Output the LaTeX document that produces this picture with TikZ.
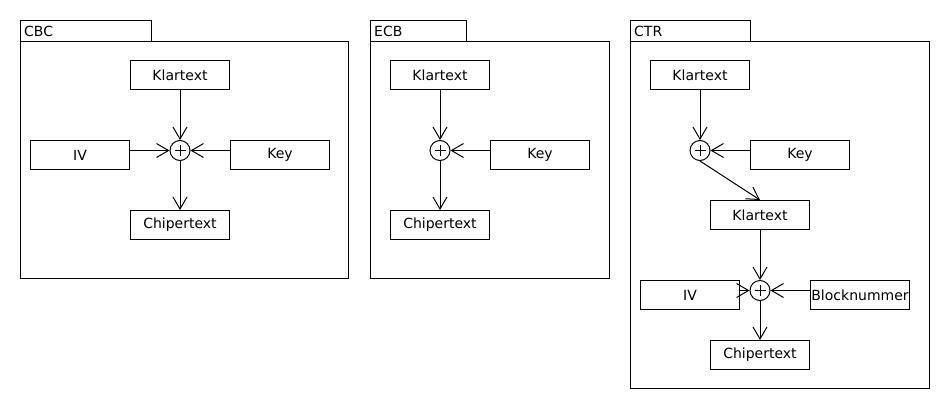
\documentclass[tikz,border=0pt]{standalone}
\usepackage{fontspec}
\setmainfont{DejaVu Sans}
\usetikzlibrary{arrows.meta}
\tikzset{
  box/.style={draw, line width=1pt, minimum width=99pt, minimum height=29pt, inner sep=0pt, font=\fontsize{14}{16}\selectfont},
  xorc/.style={draw, circle, line width=1pt, minimum size=20pt, inner sep=0pt,
    path picture={\draw[line width=1pt] ([xshift=-5.5pt]path picture bounding box.center) -- ([xshift=5.5pt]path picture bounding box.center)
      ([yshift=-5.5pt]path picture bounding box.center) -- ([yshift=5.5pt]path picture bounding box.center);}},
  frame/.style={draw, line width=1pt},
  tablabel/.style={anchor=base west, inner sep=0pt, font=\fontsize{14}{16}\selectfont},
  arr/.style={line width=1pt, -{Straight Barb[length=12pt, width=14pt, line width=1pt]}}
}
\begin{document}
\begin{tikzpicture}[x=1pt, y=-1pt]
\useasboundingbox (0,0) rectangle (950,410);
% CBC
\draw[frame] (20.5,20.5) rectangle (151.5,41.5);
\draw[frame] (20.5,41.5) rectangle (348.5,278.5);
\node[tablabel] (tcbc) at (24,36) {CBC};
\node[box] (cbck) at (180,75) {Klartext};
\node[box] (cbciv) at (80,155) {IV};
\node[box] (cbckey) at (280,155) {Key};
\node[xorc] (cbcx) at (180,150.5) {};
\node[box] (cbcc) at (180,225) {Chipertext};
\draw[arr] (cbck) -- (cbcx);
\draw[arr] (cbciv.east |- cbcx) -- (cbcx);
\draw[arr] (cbckey.west |- cbcx) -- (cbcx);
\draw[arr] (cbcx) -- (cbcc);
% ECB
\draw[frame] (370.5,20.5) rectangle (466.5,41.5);
\draw[frame] (370.5,41.5) rectangle (609.5,278.5);
\node[tablabel] (tecb) at (374,36) {ECB};
\node[box] (ecbk) at (440,75) {Klartext};
\node[box] (ecbkey) at (540,155) {Key};
\node[xorc] (ecbx) at (440,150.5) {};
\node[box] (ecbc) at (440,225) {Chipertext};
\draw[arr] (ecbk) -- (ecbx);
\draw[arr] (ecbkey.west |- ecbx) -- (ecbx);
\draw[arr] (ecbx) -- (ecbc);
% CTR
\draw[frame] (630.5,20.5) rectangle (750.5,41.5);
\draw[frame] (630.5,41.5) rectangle (929.5,388.5);
\node[tablabel] (tctr) at (634,36) {CTR};
\node[box] (ctrk) at (700,75) {Klartext};
\node[box] (ctrkey) at (800,155) {Key};
\node[xorc] (ctrx) at (700,150.5) {};
\node[box] (ctrk2) at (760,215) {Klartext};
\node[xorc] (ctrx2) at (760,290.5) {};
\node[box] (ctriv) at (690,295) {IV};
\node[box] (ctrb) at (860,295) {Blocknummer};
\node[box] (ctrc) at (760,355) {Chipertext};
\draw[arr] (ctrk) -- (ctrx);
\draw[arr] (ctrkey.west |- ctrx) -- (ctrx);
\draw[arr] (ctrx.south) -- (ctrk2.north);
\draw[arr] (ctrk2) -- (ctrx2);
\draw[arr] (ctriv.east |- ctrx2) -- (ctrx2);
\draw[arr] (ctrb.west |- ctrx2) -- (ctrx2);
\draw[arr] (ctrx2) -- (ctrc);
\end{tikzpicture}
\end{document}
